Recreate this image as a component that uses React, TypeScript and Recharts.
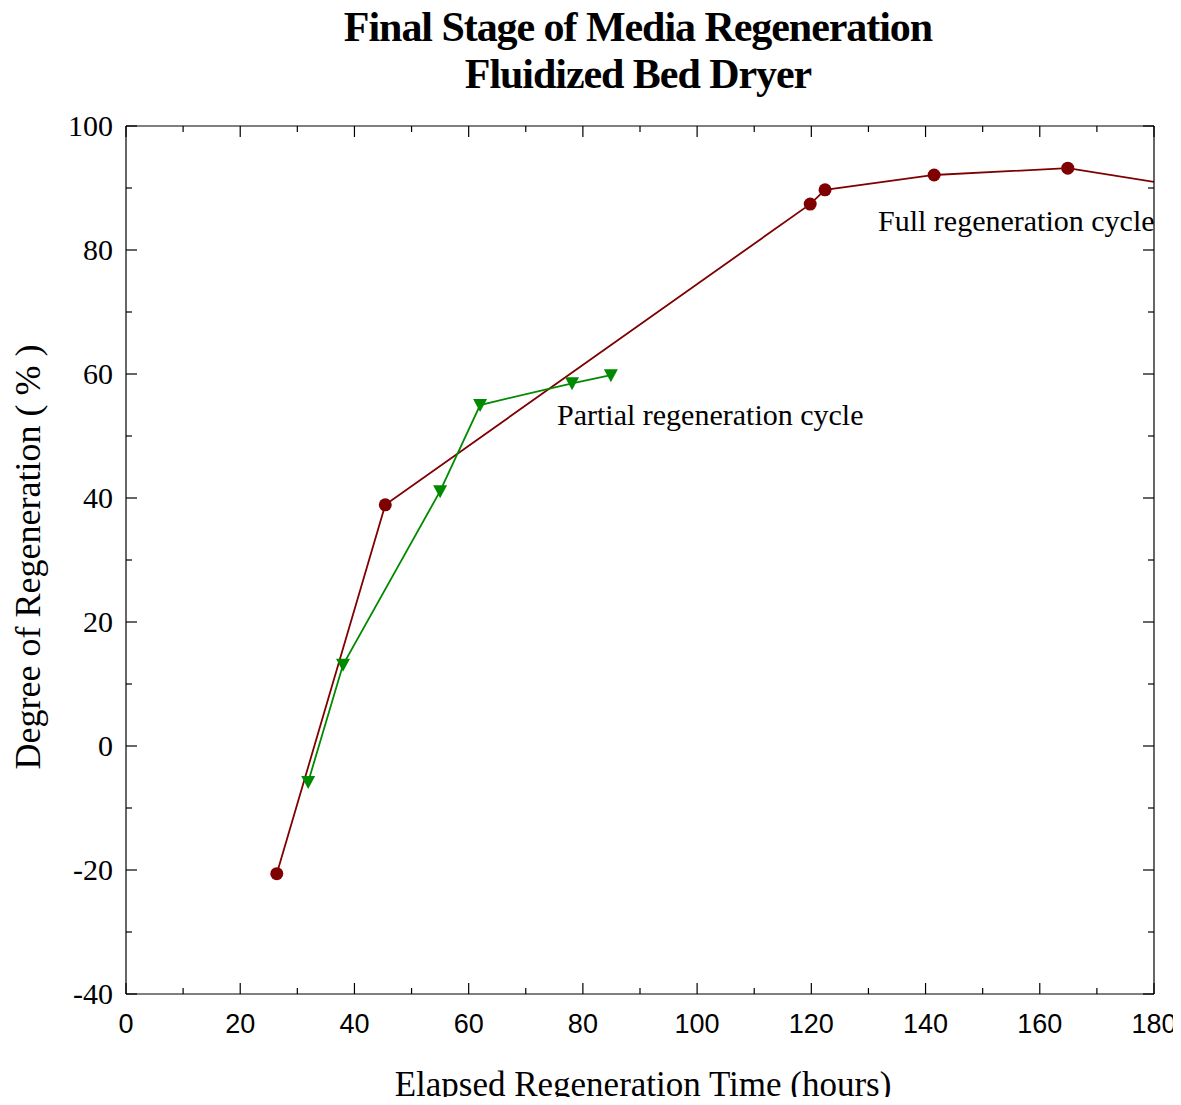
import React from "react";
import { LineChart, Line, XAxis, YAxis } from "recharts";

const fullTime = [26.4, 45.4, 119.8, 122.4, 141.5, 164.9, 180];
const fullValue = [-20.6, 38.9, 87.4, 89.7, 92.1, 93.2, 91.0];
const partialTime = [31.9, 38.0, 55.0, 62.0, 78.1, 84.9];
const partialValue = [-5.8, 13.1, 41.1, 55.0, 58.5, 59.8];
const xTicks = [0, 10, 20, 30, 40, 50, 60, 70, 80, 90, 100, 110, 120, 130, 140, 150, 160, 170, 180];
const yTicks = [-40, -30, -20, -10, 0, 10, 20, 30, 40, 50, 60, 70, 80, 90, 100];

const fullData = fullTime.map((t, i) => ({ t, v: fullValue[i] }));
const partialData = partialTime.map((t, i) => ({ t, v: partialValue[i] }));

const RED = "#7f0000";
const GREEN = "#008a00";
const SERIF = "'Liberation Serif', 'Times New Roman', serif";
const SANS = "'Liberation Sans', Arial, sans-serif";

const W = 1173;
const H = 1089;
const M = { top: 117, right: 26, bottom: 43, left: 58 };

const isMajor = (v: number) => Math.round(v) % 20 === 0;

const BottomTick = (p: any) => {
  const v = p.payload.value;
  const len = isMajor(v) ? 11 : 6;
  return (
    <g>
      <line x1={p.x} x2={p.x} y1={p.y} y2={p.y - len} stroke="#000" strokeWidth={1.2} />
      {isMajor(v) && (
        <text x={p.x} y={p.y + 39} textAnchor="middle" fontFamily={SANS} fontSize={27} fill="#000">
          {v}
        </text>
      )}
    </g>
  );
};
const TopTick = (p: any) => {
  const v = p.payload.value;
  const len = isMajor(v) ? 11 : 6;
  return <line x1={p.x} x2={p.x} y1={p.y} y2={p.y + len} stroke="#000" strokeWidth={1.2} />;
};
const LeftTick = (p: any) => {
  const v = p.payload.value;
  const len = isMajor(v) ? 11 : 6;
  return (
    <g>
      <line x1={p.x} x2={p.x + len} y1={p.y} y2={p.y} stroke="#000" strokeWidth={1.2} />
      {isMajor(v) && (
        <text x={p.x - 13} y={p.y + 10} textAnchor="end" fontFamily={SERIF} fontSize={30} fill="#000">
          {v}
        </text>
      )}
    </g>
  );
};
const RightTick = (p: any) => {
  const v = p.payload.value;
  const len = isMajor(v) ? 11 : 6;
  return <line x1={p.x} x2={p.x - len} y1={p.y} y2={p.y} stroke="#000" strokeWidth={1.2} />;
};

const CircleDot = (p: any) => {
  if (p.index === fullData.length - 1) return <g key={p.index} />;
  return <circle key={p.index} cx={p.cx} cy={p.cy} r={6.5} fill={RED} stroke="none" />;
};
const TriDot = (p: any) => {
  const { cx, cy } = p;
  return (
    <path
      key={p.index}
      d={`M ${cx - 7} ${cy - 6} L ${cx + 7} ${cy - 6} L ${cx} ${cy + 7} Z`}
      fill={GREEN}
      stroke="none"
    />
  );
};

export default function App() {
  return (
    <div style={{ position: "relative", width: W, height: H, background: "#fff" }}>
      <style>{"html,body{overflow:hidden}"}</style>
      <div
        style={{
          position: "absolute",
          left: 0,
          top: -4,
          width: 1260,
          textAlign: "center",
          fontFamily: SERIF,
          fontWeight: "bold",
          fontSize: 42,
          lineHeight: "47px",
          letterSpacing: -1.05,
          color: "#000",
        }}
      >
        Final Stage of Media Regeneration
        <br />
        Fluidized Bed Dryer
      </div>
      <LineChart width={W} height={H} margin={M} style={{ overflow: "visible" }}>
        <XAxis
          xAxisId="b"
          dataKey="t"
          type="number"
          domain={[0, 180]}
          ticks={xTicks}
          interval={0}
          allowDataOverflow
          height={60}
          tickLine={false}
          tickSize={0}
          tickMargin={0}
          tick={<BottomTick />}
          axisLine={{ stroke: "#000", strokeWidth: 1.2 }}
        />
        <XAxis
          xAxisId="t"
          orientation="top"
          dataKey="t"
          type="number"
          domain={[0, 180]}
          ticks={xTicks}
          interval={0}
          allowDataOverflow
          height={1}
          tickLine={false}
          tickSize={0}
          tickMargin={0}
          tick={<TopTick />}
          axisLine={{ stroke: "#000", strokeWidth: 1.2 }}
        />
        <YAxis
          yAxisId="l"
          dataKey="v"
          type="number"
          domain={[-40, 100]}
          ticks={yTicks}
          interval={0}
          allowDataOverflow
          width={60}
          tickLine={false}
          tickSize={0}
          tickMargin={0}
          tick={<LeftTick />}
          axisLine={{ stroke: "#000", strokeWidth: 1.2 }}
        />
        <YAxis
          yAxisId="r"
          orientation="right"
          dataKey="v"
          type="number"
          domain={[-40, 100]}
          ticks={yTicks}
          interval={0}
          allowDataOverflow
          width={1}
          tickLine={false}
          tickSize={0}
          tickMargin={0}
          tick={<RightTick />}
          axisLine={{ stroke: "#000", strokeWidth: 1.2 }}
        />
        <Line
          xAxisId="t"
          yAxisId="r"
          data={partialData}
          dataKey="v"
          type="linear"
          stroke="none"
          dot={false}
          activeDot={false}
          legendType="none"
          isAnimationActive={false}
        />
        <Line
          xAxisId="b"
          yAxisId="l"
          data={fullData}
          dataKey="v"
          type="linear"
          stroke={RED}
          strokeWidth={1.8}
          dot={<CircleDot />}
          activeDot={false}
          isAnimationActive={false}
        />
        <Line
          xAxisId="b"
          yAxisId="l"
          data={partialData}
          dataKey="v"
          type="linear"
          stroke={GREEN}
          strokeWidth={1.8}
          dot={<TriDot />}
          activeDot={false}
          isAnimationActive={false}
        />
      </LineChart>
      <div
        style={{
          position: "absolute",
          left: 870,
          top: 196,
          fontFamily: SERIF,
          fontSize: 30,
          whiteSpace: "nowrap",
          color: "#000",
        }}
      >
        Full regeneration cycle
      </div>
      <div
        style={{
          position: "absolute",
          left: 549,
          top: 390,
          fontFamily: SERIF,
          fontSize: 30,
          whiteSpace: "nowrap",
          color: "#000",
        }}
      >
        Partial regeneration cycle
      </div>
      <div
        style={{
          position: "absolute",
          left: 0,
          top: 1057,
          width: 1270,
          textAlign: "center",
          fontFamily: SERIF,
          fontSize: 35,
          whiteSpace: "nowrap",
          color: "#000",
        }}
      >
        Elapsed Regeneration Time (hours)
      </div>
      <div
        style={{
          position: "absolute",
          left: 20,
          top: 549,
          transform: "translate(-50%, -50%) rotate(-90deg)",
          fontFamily: SERIF,
          fontSize: 36,
          whiteSpace: "nowrap",
          color: "#000",
        }}
      >
        Degree of Regeneration ( % )
      </div>
    </div>
  );
}
